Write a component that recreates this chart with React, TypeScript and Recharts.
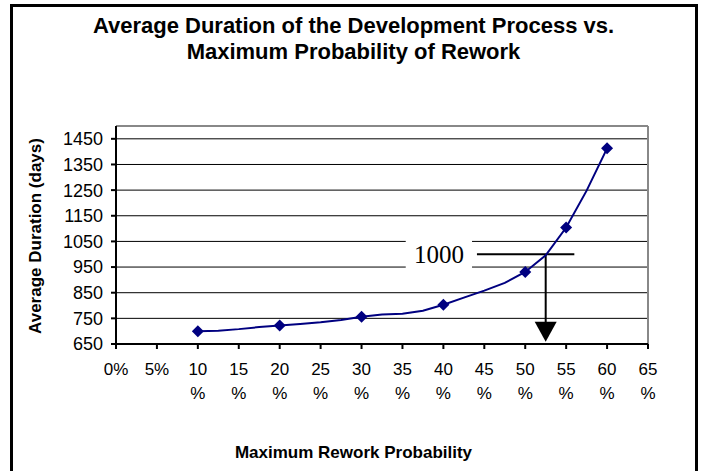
import React from 'react';
import {
  LineChart, Line, XAxis, YAxis, CartesianGrid, ReferenceLine, ReferenceArea, ReferenceDot
} from 'recharts';

// values
const rework = [10, 12.5, 15, 17.5, 20, 22.5, 25, 27.5, 30, 32.5, 35, 37.5, 40, 42.5, 45, 47.5, 50, 52.5, 55, 57.5, 60];
const duration = [700, 702, 708, 716, 722, 728, 735, 744, 756, 765, 768, 780, 803, 831, 858, 888, 931, 996, 1104, 1248, 1413];
const markedRework = [10, 20, 30, 40, 50, 55, 60];
const xTicks = [0, 5, 10, 15, 20, 25, 30, 35, 40, 45, 50, 55, 60, 65];
const yTicks = [650, 750, 850, 950, 1050, 1150, 1250, 1350, 1450];

const data = rework.map((r, i) => ({ rework: r, duration: duration[i] }));

const FONT = '"Liberation Sans", Arial, sans-serif';
const NAVY = '#000080';

const Diamond = (props: any) => {
  const { cx, cy, payload, index } = props;
  if (!markedRework.includes(payload.rework)) return <g key={`d${index}`} />;
  return (
    <path key={`d${index}`} d={`M${cx},${cy - 6} L${cx + 6},${cy} L${cx},${cy + 6} L${cx - 6},${cy} Z`} fill={NAVY} />
  );
};

const XTick = (props: any) => {
  const { x, y, payload } = props;
  const v = payload.value;
  if (v < 10) {
    return (
      <text x={x} y={y + 24} textAnchor="middle" fontSize={17} fontFamily={FONT} fill="#000">{`${v}%`}</text>
    );
  }
  return (
    <text x={x} y={y + 24} textAnchor="middle" fontSize={17} fontFamily={FONT} fill="#000">
      <tspan x={x}>{v}</tspan>
      <tspan x={x} dy={24}>%</tspan>
    </text>
  );
};

const ArrowHead = (props: any) => {
  const { cx, cy } = props;
  return <path d={`M${cx - 11},${cy - 10} L${cx + 11},${cy - 10} L${cx},${cy + 10} Z`} fill="#000" />;
};

const App: React.FC = () => {
  return (
    <div style={{ position: 'absolute', left: 0, top: 0, width: 707, height: 471, background: '#fff', fontFamily: FONT }}>
      <div style={{ position: 'absolute', left: 10, top: 4, width: 688, height: 480, border: '3px solid #000', boxSizing: 'border-box' }} />
      <div style={{ position: 'absolute', left: 0, top: 13, width: 707, textAlign: 'center', fontWeight: 'bold', fontSize: 22, lineHeight: '26px' }}>
        Average Duration of the Development Process vs.<br />Maximum Probability of Rework
      </div>
      <div style={{ position: 'absolute', left: 36, top: 236, width: 0, height: 0 }}>
        <div style={{ position: 'absolute', transform: 'translate(-50%, -50%) rotate(-90deg)', whiteSpace: 'nowrap', fontWeight: 'bold', fontSize: 17 }}>
          Average Duration (days)
        </div>
      </div>
      <div style={{ position: 'absolute', left: 0, top: 443, width: 707, textAlign: 'center', fontWeight: 'bold', fontSize: 17, lineHeight: '20px' }}>
        Maximum Rework Probability
      </div>
      <LineChart
        width={707}
        height={471}
        data={data}
        margin={{ top: 126, right: 59, bottom: 67, left: 56 }}
        style={{ position: 'absolute', left: 0, top: 0 }}
      >
        <CartesianGrid horizontal vertical={false} stroke="#000" strokeWidth={1} />
        <XAxis
          dataKey="rework"
          type="number"
          domain={[0, 65]}
          ticks={xTicks}
          interval={0}
          height={60}
          stroke="#000"
          strokeWidth={2}
          tickSize={5}
          tick={<XTick />}
        />
        <YAxis
          type="number"
          domain={[650, 1500]}
          ticks={yTicks}
          interval={0}
          allowDataOverflow
          width={60}
          stroke="#000"
          strokeWidth={2}
          tickSize={5}
          tickMargin={8}
          tick={{ fontSize: 18, fontFamily: FONT, fill: '#000' }}
        />
        <ReferenceLine y={1500} stroke="#888" strokeWidth={2} />
        <ReferenceLine x={65} stroke="#888" strokeWidth={2} />
        <ReferenceArea
          x1={35.4}
          x2={43.5}
          y1={945}
          y2={1058}
          fill="#fff"
          fillOpacity={1}
          stroke="none"
          label={{ value: '1000', position: 'center', fontSize: 25, fontFamily: '"Liberation Serif", "Times New Roman", serif', fill: '#000' }}
        />
        <ReferenceLine segment={[{ x: 44.1, y: 1000 }, { x: 56, y: 1000 }]} stroke="#000" strokeWidth={2} />
        <ReferenceLine segment={[{ x: 52.5, y: 1000 }, { x: 52.5, y: 700 }]} stroke="#000" strokeWidth={2} />
        <ReferenceDot x={52.5} y={698} r={10} shape={<ArrowHead />} />
        <Line
          type="linear"
          dataKey="duration"
          stroke={NAVY}
          strokeWidth={2}
          dot={Diamond}
          activeDot={false}
          isAnimationActive={false}
        />
      </LineChart>
    </div>
  );
};

export default App;
